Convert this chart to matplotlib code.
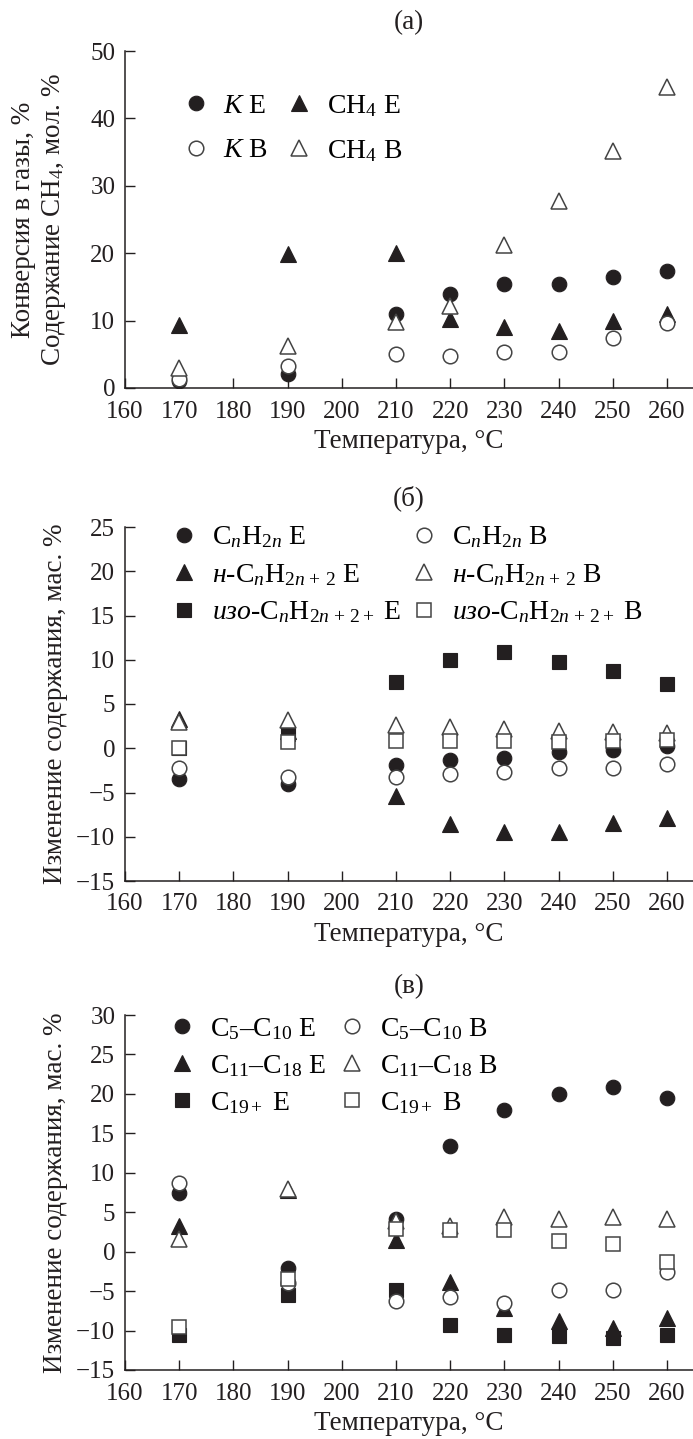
import matplotlib
matplotlib.use('Agg')
import matplotlib.pyplot as plt

plt.rcParams['font.family'] = ['Liberation Serif', 'DejaVu Serif']
plt.rcParams['mathtext.fontset'] = 'custom'
plt.rcParams['mathtext.rm'] = 'Liberation Serif'
plt.rcParams['mathtext.it'] = 'Liberation Serif:italic'
plt.rcParams['mathtext.bf'] = 'Liberation Serif:bold'
plt.rcParams['axes.unicode_minus'] = True

# --- data -----------------------------------------------------------------
temp = [170, 190, 210, 220, 230, 240, 250, 260]

# (а) conversion into gases and CH4 content
k_e = [1.0, 2.1, 11.0, 14.0, 15.5, 15.5, 16.4, 17.3]
k_b = [1.4, 3.3, 5.0, 4.7, 5.3, 5.3, 7.4, 9.6]
ch4_e = [9.3, 19.9, 20.1, 10.2, 9.1, 8.4, 9.9, 11.0]
ch4_b = [2.9, 6.3, 9.8, 12.2, 21.2, 27.7, 35.2, 44.7]

# (б) change of hydrocarbon group content
olef_e = [-3.5, -4.0, -1.9, -1.3, -1.1, -0.4, -0.2, 0.3]
olef_b = [-2.2, -3.2, -3.2, -2.9, -2.7, -2.2, -2.2, -1.8]
npar_e = [3.3, 2.0, -5.4, -8.6, -9.5, -9.5, -8.5, -7.9]
npar_b = [3.0, 3.2, 2.6, 2.4, 2.2, 2.0, 1.8, 1.7]
ipar_e = [0.0, 1.6, 7.5, 10.0, 10.9, 9.8, 8.7, 7.3]
ipar_b = [0.0, 0.7, 0.8, 0.8, 0.8, 0.7, 0.8, 0.9]

# (в) change of fraction content
c5_e = [7.5, -2.1, 4.1, 13.4, 17.9, 20.0, 20.9, 19.5]
c5_b = [8.7, -4.0, -6.2, -5.7, -6.5, -4.9, -4.9, -2.6]
c11_e = [3.3, 7.8, 1.5, -3.8, -7.2, -8.8, -9.7, -8.4]
c11_b = [1.6, 7.9, 3.9, 3.3, 4.4, 4.1, 4.4, 4.1]
c19_e = [-10.5, -5.5, -4.9, -9.3, -10.5, -10.7, -10.9, -10.6]
c19_b = [-9.5, -3.5, 2.9, 2.7, 2.8, 1.3, 1.0, -1.3]

x_ticks = list(range(160, 261, 10))

W, H = 693, 1439
fig = plt.figure(figsize=(W / 100, H / 100), dpi=100)
ink = '#231f20'
FS_TICK = 18
FS_LAB = 19.5
FS_LEG = 20


def make_axes(top, bottom, left=125, right=693):
    ax = fig.add_axes([left / W, 1 - bottom / H, (right - left) / W, (bottom - top) / H])
    ax.spines['top'].set_visible(False)
    ax.spines['right'].set_visible(False)
    for s in ('left', 'bottom'):
        ax.spines[s].set_linewidth(1.1)
        ax.spines[s].set_color(ink)
    ax.tick_params(direction='in', length=7, width=1.0, colors=ink,
                   labelsize=FS_TICK)
    ax.tick_params(axis='x', pad=9)
    ax.tick_params(axis='y', pad=7)
    ax.set_xlim(160, 264.8)
    ax.set_xticks(x_ticks)
    return ax


def dots(ax, y, marker, filled, size):
    if filled:
        return ax.plot(temp, y, ls='none', marker=marker, ms=size,
                       mfc=ink, mec=ink, mew=0.8)[0]
    return ax.plot(temp, y, ls='none', marker=marker, ms=size,
                   mfc='white', mec='#444444', mew=1.1)[0]


def leg(ax, handles, labels, anchor, colsp, labsp):
    ax.legend(handles, labels, ncol=2, frameon=False, loc='upper left',
              bbox_to_anchor=anchor, fontsize=FS_LEG, borderpad=0,
              handlelength=1.0, handletextpad=0.5, columnspacing=colsp,
              labelspacing=labsp, borderaxespad=0)


# ---------------- (а) ----------------
ax1 = make_axes(51, 388)
ax1.set_ylim(0, 50)
ax1.set_yticks(range(0, 51, 10))
h1 = dots(ax1, k_e, 'o', True, 10.5)
h2 = dots(ax1, ch4_e, '^', True, 11.5)
h3 = dots(ax1, k_b, 'o', False, 10.5)
h4 = dots(ax1, ch4_b, '^', False, 11.5)
leg(ax1, [h1, h3, h2, h4], ['$K$ E', '$K$ B', 'CH$_4$ E', 'CH$_4$ B'],
    (0.1, 0.875), 0.6, 0.68)
ax1.set_title('(а)', fontsize=FS_LAB, pad=16, color=ink)
ax1.set_xlabel('Температура, °C', fontsize=FS_LAB, color=ink, labelpad=5)
fig.text(40 / W, 1 - 220 / H, 'Конверсия в газы, %\nСодержание CH$_4$, мол. %',
         rotation=90, ha='center', va='center', fontsize=FS_LAB, color=ink,
         linespacing=1.2, multialignment='center')

# ---------------- (б) ----------------
ax2 = make_axes(527, 881)
ax2.set_ylim(-15, 25)
ax2.set_yticks(range(-15, 26, 5))
g1 = dots(ax2, olef_e, 'o', True, 10.5)
g2 = dots(ax2, npar_e, '^', True, 11.5)
g3 = dots(ax2, ipar_e, 's', True, 10)
g4 = dots(ax2, olef_b, 'o', False, 10.5)
g5 = dots(ax2, npar_b, '^', False, 11.5)
g6 = dots(ax2, ipar_b, 's', False, 10)
leg(ax2, [g1, g2, g3, g4, g5, g6],
    ['C$_n$H$_{2n}$ E', r'$\mathit{н}$-C$_n$H$_{2n\,+\,2}$ E',
     r'$\mathit{изо}$-C$_n$H$_{2n\,+\,2+}$ E',
     'C$_n$H$_{2n}$ B', r'$\mathit{н}$-C$_n$H$_{2n\,+\,2}$ B',
     r'$\mathit{изо}$-C$_n$H$_{2n\,+\,2+}$ B'],
    (0.079, 1.007), 0.35, 0.42)
ax2.set_title('(б)', fontsize=FS_LAB, pad=16, color=ink)
ax2.set_xlabel('Температура, °C', fontsize=FS_LAB, color=ink, labelpad=5)
ax2.set_ylabel('Изменение содержания, мас. %', fontsize=FS_LAB, color=ink, labelpad=6)

# ---------------- (в) ----------------
ax3 = make_axes(1015, 1370)
ax3.set_ylim(-15, 30)
ax3.set_yticks(range(-15, 31, 5))
f1 = dots(ax3, c5_e, 'o', True, 10.5)
f2 = dots(ax3, c11_e, '^', True, 11.5)
f3 = dots(ax3, c19_e, 's', True, 10)
f4 = dots(ax3, c5_b, 'o', False, 10.5)
f5 = dots(ax3, c11_b, '^', False, 11.5)
f6 = dots(ax3, c19_b, 's', False, 10)
leg(ax3, [f1, f2, f3, f4, f5, f6],
    ['C$_5$–C$_{10}$ E', 'C$_{11}$–C$_{18}$ E', 'C$_{19+}$ E',
     'C$_5$–C$_{10}$ B', 'C$_{11}$–C$_{18}$ B', 'C$_{19+}$ B'],
    (0.076, 0.998), 0.45, 0.4)
ax3.set_title('(в)', fontsize=FS_LAB, pad=16, color=ink)
ax3.set_xlabel('Температура, °C', fontsize=FS_LAB, color=ink, labelpad=5)
ax3.set_ylabel('Изменение содержания, мас. %', fontsize=FS_LAB, color=ink, labelpad=6)

fig.savefig('out.png', dpi=100)
